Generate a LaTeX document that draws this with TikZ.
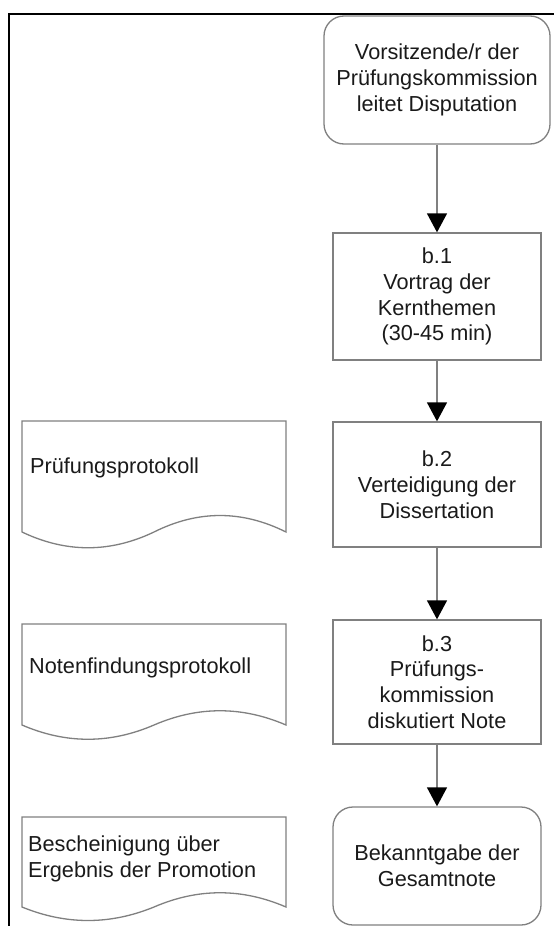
\documentclass[tikz,border=0pt]{standalone}
\usepackage{fontspec}
\setmainfont{Liberation Sans}
\usetikzlibrary{arrows.meta}
\definecolor{linegray}{HTML}{808080}
\definecolor{textcol}{HTML}{1A1A1A}
\begin{document}
\begin{tikzpicture}[x=1pt,y=-1pt,
  txt/.style={text=textcol, font=\fontsize{21.7}{25.8}\selectfont, inner sep=0pt},
  box/.style={txt, draw=linegray, line width=1.3pt, fill=white, align=center},
  stepbox/.style={box, minimum width=208pt},
  roundbox/.style={box, rounded corners=20pt},
  doc/.style={draw=linegray, line width=1.3pt, fill=white},
  doctext/.style={txt, anchor=west, align=left},
  conn/.style={draw=linegray, line width=1.3pt, -{Triangle[width=20pt,length=19pt,color=black]}},
  frame/.style={draw=black, line width=2.4pt}
]
\useasboundingbox[fill=white] (0,0) rectangle (554,926);
\draw[frame] (9,926) -- (9,14) -- (554,14);

% process column
\node[roundbox, minimum width=226pt, minimum height=128pt] (start) at (437,80)
  {Vorsitzende/r der\\Prüfungskommission\\leitet Disputation};
\node[stepbox, minimum height=127pt] (b1) at (437,296.5)
  {b.1\\Vortrag der\\Kernthemen\\(30-45 min)};
\node[stepbox, minimum height=125pt] (b2) at (437,484.5)
  {b.2\\Verteidigung der\\Dissertation};
\node[stepbox, minimum height=124pt] (b3) at (437,682)
  {b.3\\Prüfungs-\\kommission\\diskutiert Note};
\node[roundbox, minimum width=208pt, minimum height=118pt] (end) at (437,866)
  {Bekanntgabe der\\Gesamtnote};

\draw[conn] (start.south) -- (b1.north);
\draw[conn] (b1.south) -- (b2.north);
\draw[conn] (b2.south) -- (b3.north);
\draw[conn] (b3.south) -- (end.north);

% documents
\draw[doc] (22,421) -- (286,421) -- (286,532)
  .. controls (242,510) and (198,510) .. (154,532)
  .. controls (110,553) and (66,553) .. (22,532) -- cycle;
\node[doctext] (d1) at (30,468) {Prüfungsprotokoll};

\draw[doc] (22,624) -- (286,624) -- (286,725)
  .. controls (242,706) and (198,706) .. (154,725)
  .. controls (110,744) and (66,744) .. (22,725) -- cycle;
\node[doctext] (d2) at (29,668) {Notenfindungsprotokoll};

\draw[doc] (22,817) -- (286,817) -- (286,907)
  .. controls (242,888) and (198,888) .. (154,907)
  .. controls (110,925) and (66,925) .. (22,907) -- cycle;
\node[doctext] (d3) at (28,859) {Bescheinigung über\\Ergebnis der Promotion};
\end{tikzpicture}
\end{document}
